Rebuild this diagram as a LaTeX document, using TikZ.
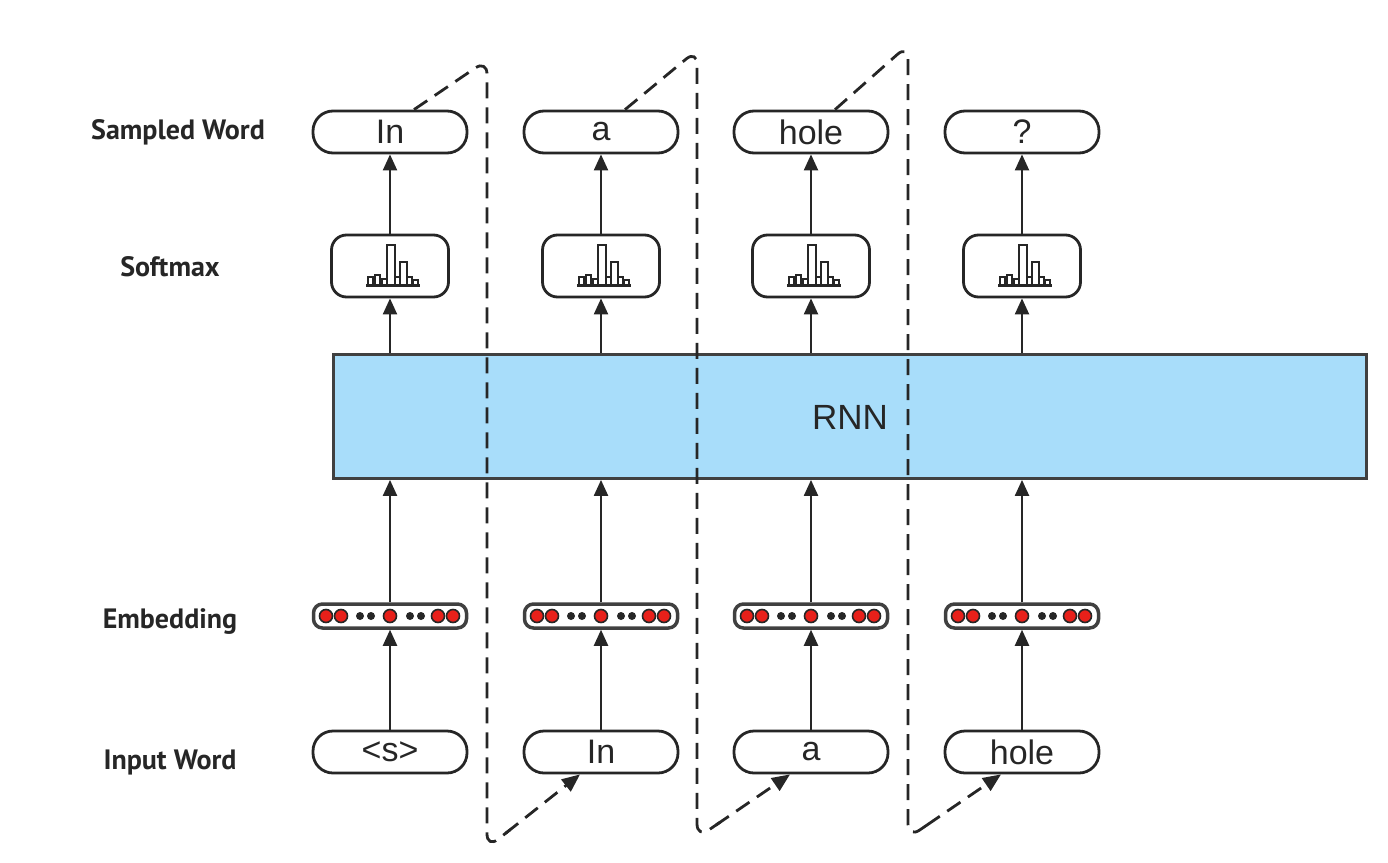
\documentclass[tikz,border=0pt]{standalone}
\usepackage{fontspec}
\usetikzlibrary{arrows.meta,calc}
\newfontfamily\boxfont{Liberation Sans}
\newfontfamily\labfont{PT Sans}
\definecolor{rnnblue}{HTML}{A8DDFA}
\definecolor{dotred}{HTML}{E8201A}
\begin{document}
\begin{tikzpicture}[x=1pt,y=-1pt,
  word/.style={draw=black!85, line width=2.8pt, rounded corners=20pt, minimum width=154pt, minimum height=42pt, inner sep=0pt, font=\boxfont\fontsize{34}{34}\selectfont, text=black!85},
  smax/.style={draw=black!85, line width=2.8pt, rounded corners=15pt, minimum width=117pt, minimum height=62pt, inner sep=0pt},
  emb/.style={draw=black!75, line width=3.5pt, rounded corners=9pt, minimum width=153pt, minimum height=24pt, inner sep=0pt},
  rnn/.style={draw=black!75, fill=rnnblue, line width=2.8pt, minimum width=1033pt, minimum height=124pt, inner sep=0pt},
  lab/.style={font=\labfont\bfseries\fontsize{28}{28}\selectfont, inner sep=0pt, text=black!85},
  flow/.style={line width=2.2pt, draw=black!85, -{Triangle[length=16pt,width=14pt]}},
  dashline/.style={line width=2.8pt, draw=black!85, dash pattern=on 16pt off 9pt, rounded corners=14pt},
  dasharrow/.style={line width=2.8pt, draw=black!85, dash pattern=on 16pt off 9pt, -{Triangle[length=18pt,width=15pt]}},
  bar/.style={draw=black!85, line width=2.4pt, fill=white},
  rdot/.style={draw=black!85, line width=1.6pt, fill=dotred},
]
\useasboundingbox (0,0) rectangle (1388,862);

% RNN block
\node[rnn] (rnn) at (850,416.5) {};
\node[font=\boxfont\fontsize{35}{35}\selectfont, text=black!85] (rnnlab) at (850,417) {RNN};

% labels
\node[lab] (lsw) at (178,132) {Sampled Word};
\node[lab] (lsm) at (170,267) {Softmax};
\node[lab] (lem) at (170,622) {Embedding};
\node[lab] (liw) at (170,762) {Input Word};

% columns
\foreach \i/\x/\sw/\iw in {1/390/In/{<s>},2/601/a/In,3/811/hole/a,4/1022/?/hole}{
  \node[word] (s\i) at (\x,132) {\sw};
  \node[smax] (m\i) at (\x,266) {};
  \node[emb] (e\i) at (\x,616) {};
  \node[word] (w\i) at (\x,752) {\iw};
  % histogram icon
  \begin{scope}[shift={(\x,285)}]
    \draw[bar] (-22,0) rectangle (-17,-8);
    \draw[bar] (-15,0) rectangle (-10,-10);
    \draw[bar] (-8,0) rectangle (-3,-6);
    \draw[bar] (-3,0) rectangle (5,-40);
    \draw[bar] (5,0) rectangle (10,-8);
    \draw[bar] (10,0) rectangle (17,-23);
    \draw[bar] (17,0) rectangle (22,-8);
    \draw[bar] (23,0) rectangle (28,-5);
    \draw[line width=3pt, black!85] (-24,0) -- (30,0);
  \end{scope}
  % embedding dots
  \begin{scope}[shift={(\x,616)}]
    \foreach \d in {-64,-49,48,63}{\draw[rdot] (\d,0) circle (6.5pt);}
    \foreach \d in {-30,-19,20,31}{\fill[black!85] (\d,0) circle (4pt);}
  \end{scope}
  \draw[flow] (w\i.north) -- (e\i.south);
  \draw[flow] (e\i.north) -- (rnn.south -| e\i.north);
  \draw[flow] (rnn.north -| m\i.south) -- (m\i.south);
  \draw[flow] (m\i.north) -- (s\i.south);
  \begin{scope}[shift={(\x,616)}]
    \draw[rdot] (0,0) circle (6.5pt);
  \end{scope}
}

% feedback dashed paths
\coordinate (t1) at (487,60);  \coordinate (b1) at (487,848);
\coordinate (t2) at (697,50);  \coordinate (b2) at (697,838);
\coordinate (t3) at (908,45);  \coordinate (b3) at (908,838);
\foreach \i/\j in {1/2,2/3,3/4}{
  \draw[dashline] ($(s\i.north)+(24,0)$) -- (t\i) -- (b\i) -- ($(b\i)!0.25!($(w\j.south)+(-21,0)$)$);
  \draw[dasharrow] ($(b\i)!0.2!($(w\j.south)+(-21,0)$)$) -- ($(w\j.south)+(-21,0)$);
}
\end{tikzpicture}
\end{document}
